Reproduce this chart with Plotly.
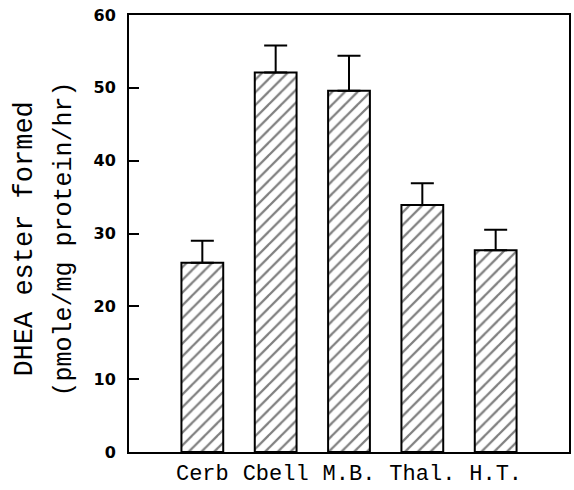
import plotly.graph_objects as go

regions = ["Cerb", "Cbell", "M.B.", "Thal.", "H.T."]
ester_formed = [26.0, 52.1, 49.6, 33.9, 27.7]
error_up = [3.0, 3.7, 4.8, 3.0, 2.8]
y_ticks = [0, 10, 20, 30, 40, 50, 60]

fig = go.Figure()
fig.add_trace(go.Bar(
    x=regions,
    y=ester_formed,
    width=0.57,
    marker=dict(
        color="white",
        line=dict(color="black", width=2),
        pattern=dict(shape="/", fgcolor="black", bgcolor="white", size=9, solidity=0.25),
    ),
    error_y=dict(type="data", array=error_up, arrayminus=[0] * len(error_up),
                 symmetric=False, color="black", thickness=2, width=11.5),
    showlegend=False,
))

fig.update_layout(
    width=574, height=490,
    margin=dict(l=129, r=5, t=15, b=38),
    plot_bgcolor="white", paper_bgcolor="white",
    xaxis=dict(
        type="category", range=[-1, 5], showgrid=False, automargin=False,
        showline=True, linecolor="black", linewidth=2, mirror=True,
        ticks="", ticklabelstandoff=0,
        tickfont=dict(family="Liberation Mono", size=22, color="black"),
    ),
    yaxis=dict(
        range=[0, 60], tickvals=y_ticks, showgrid=False, zeroline=False,
        showline=True, linecolor="black", linewidth=2, mirror=True,
        automargin=False,
        ticks="inside", ticklen=10, tickwidth=2, tickcolor="black",
        ticklabelstandoff=8,
        tickfont=dict(family="DejaVu Sans", size=16, color="black", weight="bold"),
    ),
)

fig.add_annotation(text="DHEA ester formed", xref="paper", yref="paper",
                   x=0, y=0.486, xshift=-104, textangle=-90, showarrow=False,
                   xanchor="center", yanchor="middle",
                   font=dict(family="Liberation Mono", size=27, color="black"))
fig.add_annotation(text="(pmole/mg protein/hr)", xref="paper", yref="paper",
                   x=0, y=0.486, xshift=-64, textangle=-90, showarrow=False,
                   xanchor="center", yanchor="middle",
                   font=dict(family="Liberation Mono", size=25, color="black"))

fig.write_html("out.html")
